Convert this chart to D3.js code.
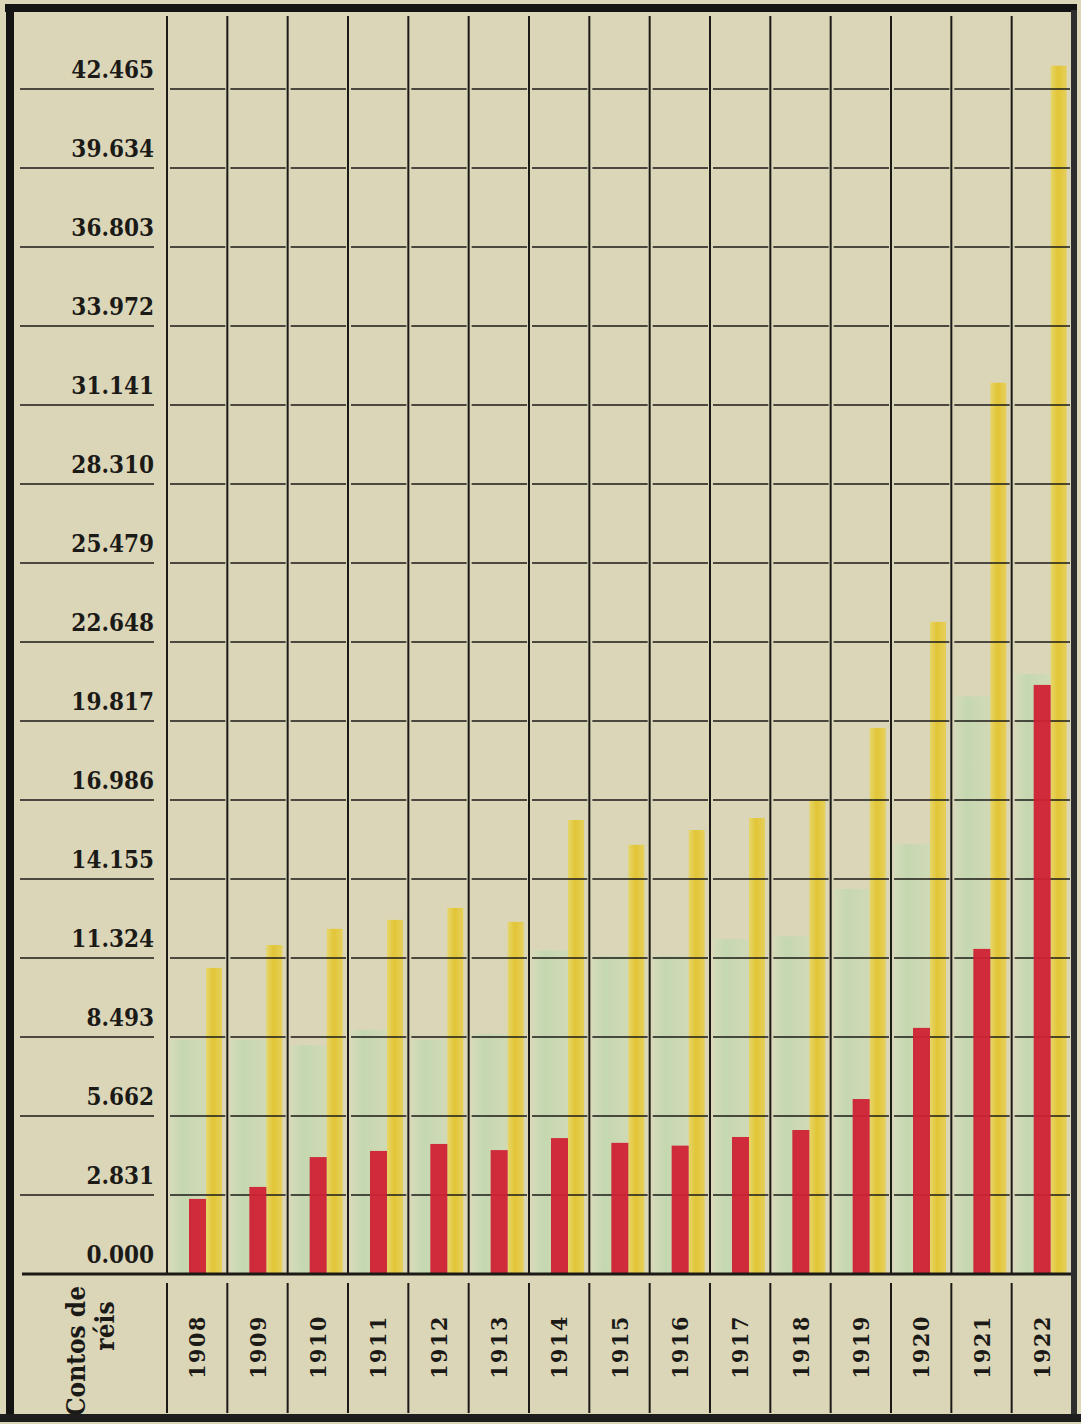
<!DOCTYPE html>
<html>
<head>
<meta charset="utf-8">
<script src="https://cdn.jsdelivr.net/npm/d3@7"></script>
<style>
  html, body { margin: 0; padding: 0; background: #ddd7ba; }
  svg { display: block; }
</style>
</head>
<body>
<script>
// ---------- DATA (contos de réis) ----------
const years = ["1908","1909","1910","1911","1912","1913","1914","1915","1916","1917","1918","1919","1920","1921","1922"];
const greenSeries  = [8400, 8400, 8200, 8750, 8400, 8600, 11600, 11400, 11400, 12000, 12100, 13800, 15400, 20700, 21500];
const yellowSeries = [10970, 11790, 12370, 12690, 13120, 12620, 16270, 15380, 15910, 16340, 16990, 19570, 23370, 31940, 43300];
const redSeries    = [2690, 3120, 4190, 4410, 4660, 4440, 4870, 4700, 4600, 4910, 5160, 6270, 8820, 11650, 21110];
const tickValues = [0, 2831, 5662, 8493, 11324, 14155, 16986, 19817, 22648, 25479, 28310, 31141, 33972, 36803, 39634, 42465];
const tickLabels = ["0.000","2.831","5.662","8.493","11.324","14.155","16.986","19.817","22.648","25.479","28.310","31.141","33.972","36.803","39.634","42.465"];
const unitLines = ["Contos de", "réis"];

// ---------- LAYOUT ----------
const W = 1081, H = 1424;
const svg = d3.select("body").append("svg").attr("width", W).attr("height", H);

svg.append("rect").attr("x", 0).attr("y", 0).attr("width", W).attr("height", H).attr("fill", "#dcd6b9");

const x = d3.scaleBand().domain(years).range([167, 1072]).paddingInner(0).paddingOuter(0);
const y = d3.scaleLinear().domain([0, 42465]).range([1274, 89]);
const bw = x.bandwidth();

const ink = "#1b1a17";
const serif = "'DejaVu Serif Condensed', 'DejaVu Serif', serif";

// soft gradients
const defs = svg.append("defs");
const gG = defs.append("linearGradient").attr("id", "gGreen").attr("x1", 0).attr("x2", 1);
gG.append("stop").attr("offset", "0%").attr("stop-color", "#d3dcbb");
gG.append("stop").attr("offset", "35%").attr("stop-color", "#bfd8ae");
gG.append("stop").attr("offset", "100%").attr("stop-color", "#cedab6");
const gY = defs.append("linearGradient").attr("id", "gYellow").attr("x1", 0).attr("x2", 1);
gY.append("stop").attr("offset", "0%").attr("stop-color", "#e6d66a");
gY.append("stop").attr("offset", "45%").attr("stop-color", "#e2c536");
gY.append("stop").attr("offset", "100%").attr("stop-color", "#e5d05c");

const rows = years.map((yr, i) => ({ year: yr, g: greenSeries[i], yl: yellowSeries[i], r: redSeries[i] }));

// ---------- BARS ----------
svg.append("g").selectAll("rect").data(rows).join("rect")
  .attr("x", d => x(d.year) + 3).attr("width", 36)
  .attr("y", d => y(d.g)).attr("height", d => y(0) - y(d.g))
  .attr("fill", "url(#gGreen)").attr("opacity", 0.8);

svg.append("g").selectAll("rect").data(rows).join("rect")
  .attr("x", d => x(d.year) + 39).attr("width", 16)
  .attr("y", d => y(d.yl)).attr("height", d => y(0) - y(d.yl))
  .attr("fill", "url(#gYellow)");

// ---------- GRID ----------
const grid = svg.append("g").attr("stroke", ink).attr("stroke-width", 1.6);
tickValues.slice(1).forEach(v => {
  grid.append("line").attr("x1", 20).attr("x2", 154).attr("y1", y(v)).attr("y2", y(v));
  years.forEach(yr => {
    grid.append("line").attr("x1", x(yr) + 3).attr("x2", x(yr) + bw - 2)
      .attr("y1", y(v)).attr("y2", y(v));
  });
});

// red bars
svg.append("g").selectAll("rect").data(rows).join("rect")
  .attr("x", d => x(d.year) + 22).attr("width", 17)
  .attr("y", d => y(d.r)).attr("height", d => y(0) - y(d.r))
  .attr("fill", "#cf2234").attr("opacity", 0.95);

// vertical column lines
const vl = svg.append("g").attr("stroke", ink).attr("stroke-width", 2);
years.forEach(yr => {
  vl.append("line").attr("x1", x(yr)).attr("x2", x(yr)).attr("y1", 16).attr("y2", 1274);
  vl.append("line").attr("x1", x(yr)).attr("x2", x(yr)).attr("y1", 1283).attr("y2", 1413);
});

// baseline
svg.append("line").attr("x1", 22).attr("x2", 1072).attr("y1", y(0)).attr("y2", y(0))
  .attr("stroke", ink).attr("stroke-width", 3);

// ---------- Y LABELS ----------
svg.append("g").selectAll("text").data(tickValues).join("text")
  .attr("x", 154).attr("y", d => y(d) - 11)
  .attr("text-anchor", "end")
  .attr("font-family", serif).attr("font-weight", "bold")
  .attr("font-stretch", "condensed")
  .attr("font-size", 24)
  .attr("fill", ink)
  .text((d, i) => tickLabels[i]);

// ---------- YEAR LABELS ----------
svg.append("g").selectAll("text").data(years).join("text")
  .attr("transform", d => `translate(${x(d) + bw / 2 + 8},1347) rotate(-90)`)
  .attr("text-anchor", "middle")
  .attr("font-family", serif).attr("font-weight", "bold")
  .attr("font-stretch", "condensed")
  .attr("font-size", 23).attr("letter-spacing", 1.5)
  .attr("fill", ink)
  .text(d => d);

// unit label
svg.append("text")
  .attr("transform", "translate(85,1351) rotate(-90)")
  .attr("text-anchor", "middle")
  .attr("font-family", serif).attr("font-weight", "bold")
  .attr("font-stretch", "condensed")
  .attr("font-size", 26).attr("fill", ink)
  .text(unitLines[0]);
svg.append("text")
  .attr("transform", "translate(114,1326) rotate(-90)")
  .attr("text-anchor", "middle")
  .attr("font-family", serif).attr("font-weight", "bold")
  .attr("font-stretch", "condensed")
  .attr("font-size", 26).attr("fill", ink)
  .text(unitLines[1]);

// ---------- FRAME ----------
svg.append("rect").attr("x", 5).attr("y", 4).attr("width", 1072).attr("height", 8).attr("fill", "#141414");
svg.append("rect").attr("x", 6).attr("y", 4).attr("width", 8).attr("height", 1418).attr("fill", "#141414");
svg.append("rect").attr("x", 1071).attr("y", 10).attr("width", 6).attr("height", 1410).attr("fill", "#2e2e2e");
svg.append("rect").attr("x", 0).attr("y", 1414).attr("width", W).attr("height", 8).attr("fill", "#1e1e1e");
</script>
</body>
</html>
